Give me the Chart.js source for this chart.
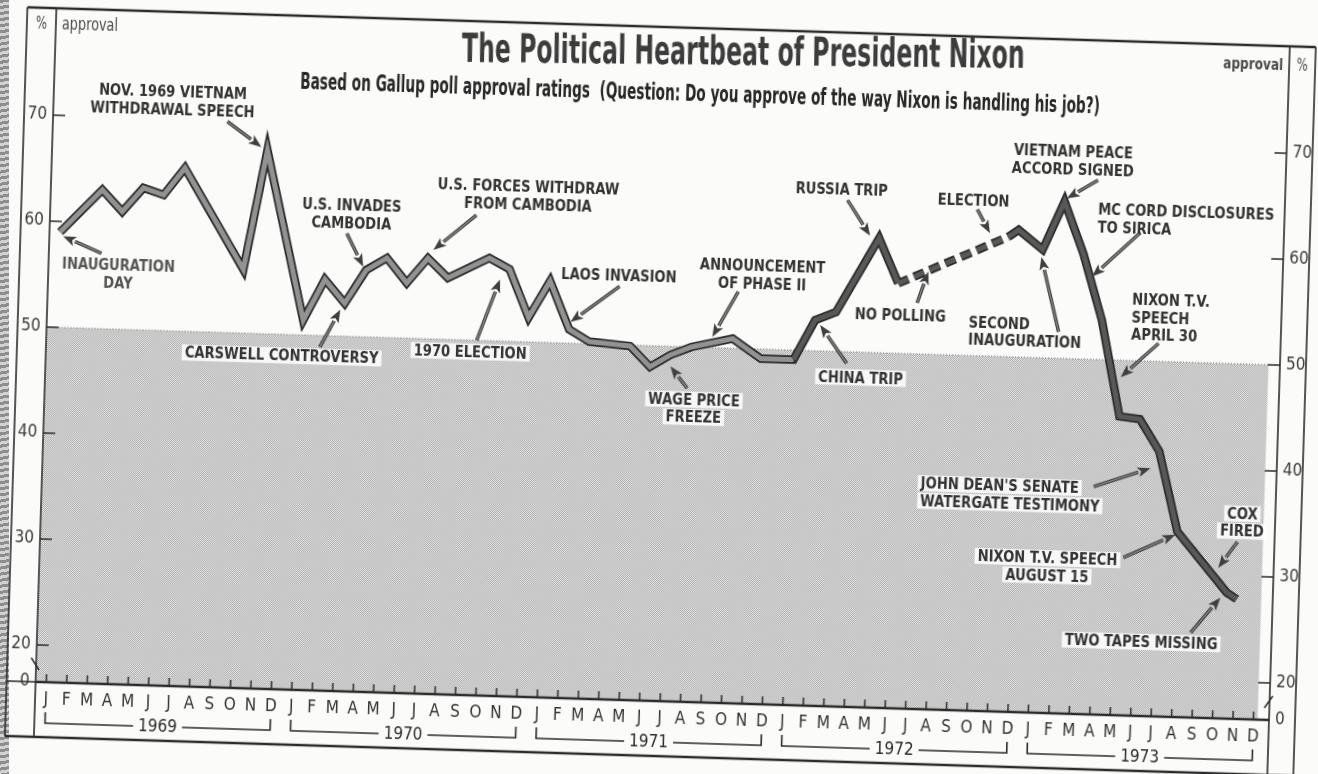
<!DOCTYPE html>
<html lang="en">
<head>
<meta charset="UTF-8">
<title>The Political Heartbeat of President Nixon</title>
<script src="https://cdn.jsdelivr.net/npm/chart.js"></script>
<style>
  html, body { margin: 0; padding: 0; background: #fbfbf9; overflow: hidden; }
  #wrap { position: relative; width: 1318px; height: 774px; overflow: hidden; }
  #edge { position: absolute; left: 0; top: 0; width: 9px; height: 774px;
          background: repeating-linear-gradient(170deg, #8d8d8d 0 3px, #d2d2d2 3px 6px); }
  #nixonChart { position: absolute; left: 0; top: 0; transform: rotate(1.77deg); transform-origin: 659px 387px; }
</style>
</head>
<body>
<div id="wrap">
  <div id="edge"></div>
  <canvas id="nixonChart" width="1318" height="774"></canvas>
</div>
<script>
// Gallup approval; x = months counted from Jan 1969
const pollMonth = [0, 2, 3, 4, 5, 6, 9, 10, 12, 13, 14, 15, 16, 17, 18, 19, 21, 22, 23, 24,
                   25, 26, 28, 29, 30, 31, 33, 34.4, 36, 37, 38, 40, 41, 46.3, 46.8, 48, 49,
                   50, 51, 52, 53, 54, 55, 57.5, 58];
const approval = [59.0, 63.1, 61.1, 63.4, 62.8, 65.4, 56.0, 67.3, 51.4, 55.3, 53.1, 56.3, 57.5, 55.2, 57.6, 55.8, 57.8, 56.8, 52.3, 55.8,
                  51.3, 50.2, 49.9, 48.0, 49.2, 50.0, 50.9, 49.1, 49.1, 52.9, 53.7, 60.8, 56.6, 61.3, 62.0, 60.2, 64.8,
                  59.9, 53.7, 44.7, 44.5, 41.5, 34.0, 28.4, 27.8];
const noPollingFrom = 41;          // no Gallup polling summer/fall 1972 -> dashed
const monthLetters = ['J', 'F', 'M', 'A', 'M', 'J', 'J', 'A', 'S', 'O', 'N', 'D'];
const years = ['1969', '1970', '1971', '1972', '1973'];
const yTicks = [20, 30, 40, 50, 60, 70];
const axisFloor = 16.5;            // broken axis: this level is labelled 0

// events printed on the chart: text anchor and arrow in (month, %) units
const notes = [
  { text: ['NOV. 1969 VIETNAM', 'WITHDRAWAL SPEECH'], at: [5.3, 71.7], arrow: [[8.0, 69.9], [9.7, 67.6]] },
  { text: ['INAUGURATION', 'DAY'], at: [2.9, 55.2], arrow: [[2.05, 57.1], [0.15, 58.6]], color: '#555' },
  { text: ['U.S. INVADES', 'CAMBODIA'], at: [14.2, 61.5], arrow: [[14.0, 59.7], [14.85, 56.6]] },
  { text: ['U.S. FORCES WITHDRAW', 'FROM CAMBODIA'], at: [22.8, 63.8], arrow: [[20.3, 61.8], [18.25, 58.4]] },
  { text: ['CARSWELL CONTROVERSY'], at: [11.0, 48.0], arrow: [[12.85, 48.9], [13.8, 52.5]] },
  { text: ['1970 ELECTION'], at: [20.2, 48.9], arrow: [[20.5, 50.0], [21.55, 55.8]] },
  { text: ['LAOS INVASION'], at: [27.35, 56.5], arrow: [[27.4, 55.5], [25.05, 52.0]] },
  { text: ['ANNOUNCEMENT', 'OF PHASE II'], at: [34.35, 57.0], arrow: [[33.2, 55.35], [32.0, 51.0]] },
  { text: ['WAGE PRICE', 'FREEZE'], at: [31.2, 44.2], arrow: [[30.85, 46.1], [30.0, 48.1]] },
  { text: ['RUSSIA TRIP'], at: [38.1, 65.25], arrow: [[38.4, 64.3], [39.55, 61.0]] },
  { text: ['CHINA TRIP'], at: [39.3, 47.6], arrow: [[38.6, 48.9], [37.25, 52.45]] },
  { text: ['NO POLLING'], at: [41.15, 53.6], arrow: [[41.95, 54.8], [42.45, 57.8]] },
  { text: ['ELECTION'], at: [44.55, 64.6], arrow: [[44.75, 63.8], [45.4, 61.6]] },
  { text: ['VIETNAM PEACE', 'ACCORD SIGNED'], at: [49.35, 68.7], arrow: [[50.6, 66.9], [49.1, 65.1]] },
  { text: ['MC CORD DISCLOSURES', 'TO SIRICA'], at: [50.65, 63.3], align: 'left', arrow: [[52.75, 62.1], [50.45, 57.8]] },
  { text: ['SECOND', 'INAUGURATION'], at: [44.5, 52.3], align: 'left', arrow: [[48.9, 52.5], [47.95, 59.5]] },
  { text: ['NIXON T.V.', 'SPEECH', 'APRIL 30'], at: [52.45, 54.1], align: 'left', arrow: [[53.8, 51.7], [52.0, 48.4]] },
  { text: ["JOHN DEAN'S SENATE", 'WATERGATE TESTIMONY'], at: [42.4, 37.0], align: 'left', arrow: [[50.85, 38.0], [53.6, 39.9]] },
  { text: ['NIXON T.V. SPEECH', 'AUGUST 15'], at: [48.7, 30.3], arrow: [[52.4, 31.4], [54.9, 33.7]] },
  { text: ['COX', 'FIRED'], at: [58.15, 35.05], arrow: [[57.95, 33.2], [57.05, 30.7]] },
  { text: ['TWO TAPES MISSING'], at: [53.4, 23.5], arrow: [[55.8, 24.5], [57.2, 27.9]] }
];

const approvalLine = pollMonth.map((m, i) => ({ x: m, y: approval[i] }));
const narrow = "'Liberation Sans Narrow', 'DejaVu Sans Condensed', 'Roboto Condensed', 'DejaVu Sans', sans-serif";
const ink = '#2b2b2b';
const frame = { left: 16, right: 1305, top: 27, bottom: 756 };

function halftone(ctx) {
  const tile = document.createElement('canvas');
  tile.width = 2; tile.height = 2;
  const t = tile.getContext('2d');
  t.fillStyle = '#e8e8e8'; t.fillRect(0, 0, 2, 2);
  t.fillStyle = '#a9a9a9'; t.fillRect(0, 0, 1, 1); t.fillRect(1, 1, 1, 1);
  return ctx.createPattern(tile, 'repeat');
}

// squeezed text, like the condensed newspaper type
function fitText(ctx, text, cx, cy, width, font, color, tilt = 0) {
  ctx.save();
  ctx.font = font;
  const w = ctx.measureText(text).width;
  ctx.translate(cx, cy);
  ctx.rotate(tilt);
  ctx.scale(width / w, 1);
  ctx.fillStyle = color;
  ctx.textAlign = 'center';
  ctx.textBaseline = 'middle';
  ctx.fillText(text, 0, 0);
  ctx.restore();
}

function drawArrow(ctx, x0, y0, x1, y1) {
  const a = Math.atan2(y1 - y0, x1 - x0);
  const head = 13, half = 5;
  const bx = x1 - head * Math.cos(a), by = y1 - head * Math.sin(a);
  ctx.save();
  ctx.lineCap = 'butt';
  ctx.strokeStyle = '#3a3a3a'; ctx.lineWidth = 3.5;
  ctx.beginPath(); ctx.moveTo(x0, y0); ctx.lineTo(bx, by); ctx.stroke();
  ctx.strokeStyle = '#8a8a8a'; ctx.lineWidth = 1.3;
  ctx.beginPath(); ctx.moveTo(x0, y0); ctx.lineTo(bx, by); ctx.stroke();
  ctx.fillStyle = '#3f3f3f';
  ctx.beginPath();
  ctx.moveTo(x1, y1);
  ctx.lineTo(bx + half * Math.sin(a), by - half * Math.cos(a));
  ctx.lineTo(bx + 3 * Math.cos(a), by + 3 * Math.sin(a));
  ctx.lineTo(bx - half * Math.sin(a), by + half * Math.cos(a));
  ctx.closePath(); ctx.fill();
  ctx.restore();
}

const decor = {
  id: 'decor',
  beforeDatasetsDraw(chart) {
    const { ctx, chartArea: area, scales: { x, y } } = chart;
    const y50 = y.getPixelForValue(50);
    const xEnd = x.getPixelForValue(59.2);
    ctx.save();
    // shaded zone under 50 %
    ctx.fillStyle = halftone(ctx);
    ctx.fillRect(area.left + 1, y50, xEnd - area.left - 1, area.bottom - y50);
    ctx.strokeStyle = '#777'; ctx.lineWidth = 1; ctx.setLineDash([1, 2]);
    ctx.beginPath(); ctx.moveTo(area.left, y50); ctx.lineTo(xEnd, y50); ctx.stroke();
    ctx.setLineDash([]);
    // frame and axis lines
    ctx.strokeStyle = ink;
    ctx.lineWidth = 2.5;
    ctx.beginPath();
    ctx.moveTo(frame.left, frame.top); ctx.lineTo(frame.right, frame.top);
    ctx.moveTo(frame.left, frame.bottom); ctx.lineTo(frame.right, frame.bottom);
    ctx.moveTo(area.left, area.bottom); ctx.lineTo(area.right, area.bottom);
    ctx.stroke();
    ctx.lineWidth = 1.6;
    ctx.beginPath();
    ctx.moveTo(frame.left, frame.top); ctx.lineTo(frame.left, frame.bottom);
    ctx.moveTo(frame.right, frame.top); ctx.lineTo(frame.right, frame.bottom);
    ctx.moveTo(area.left, frame.top); ctx.lineTo(area.left, frame.bottom);
    ctx.moveTo(area.right, frame.top); ctx.lineTo(area.right, frame.bottom);
    ctx.stroke();
    // tick marks pointing into the plot
    ctx.lineWidth = 1.5;
    ctx.beginPath();
    for (let m = 0; m < 60; m++) {
      const px = x.getPixelForValue(m);
      ctx.moveTo(px, area.bottom); ctx.lineTo(px, area.bottom - 8);
    }
    yTicks.forEach(v => {
      const py = y.getPixelForValue(v);
      ctx.moveTo(area.left, py); ctx.lineTo(area.left + 12, py);
      ctx.moveTo(area.right - 12, py); ctx.lineTo(area.right, py);
    });
    ctx.moveTo(frame.left, area.bottom); ctx.lineTo(area.left, area.bottom);
    ctx.moveTo(area.right - 8, area.bottom); ctx.lineTo(area.right, area.bottom);
    ctx.stroke();
    // axis break marks
    const pb = y.getPixelForValue(18.2);
    ctx.beginPath();
    ctx.moveTo(area.left - 5, pb - 6); ctx.lineTo(area.left + 3, pb + 6);
    ctx.moveTo(area.right - 5, pb + 6); ctx.lineTo(area.right + 3, pb - 6);
    ctx.stroke();
    ctx.restore();
  },
  afterDatasetsDraw(chart) {
    const { ctx, chartArea: area, scales: { x, y } } = chart;
    ctx.save();
    // year brackets under the month letters
    const yb = area.bottom + 41;
    ctx.font = `17px ${narrow}`;
    ctx.fillStyle = ink; ctx.strokeStyle = ink; ctx.lineWidth = 1.6;
    ctx.textAlign = 'center'; ctx.textBaseline = 'middle';
    years.forEach((yr, k) => {
      const x0 = x.getPixelForValue(12 * k), x1 = x.getPixelForValue(12 * k + 11);
      const mid = (x0 + x1) / 2, hw = ctx.measureText(yr).width / 2 + 5;
      ctx.beginPath();
      ctx.moveTo(x0, yb - 11); ctx.lineTo(x0, yb); ctx.lineTo(mid - hw, yb);
      ctx.moveTo(mid + hw, yb); ctx.lineTo(x1, yb); ctx.lineTo(x1, yb - 11);
      ctx.stroke();
      ctx.fillText(yr, mid, yb + 1);
    });
    // arrows, then labels
    notes.forEach(n => {
      const [a, b] = n.arrow;
      drawArrow(ctx, x.getPixelForValue(a[0]), y.getPixelForValue(a[1]),
                     x.getPixelForValue(b[0]), y.getPixelForValue(b[1]));
    });
    const sx = 0.82, lh = 17.5;
    ctx.font = "bold 16px 'DejaVu Sans', sans-serif";
    ctx.textBaseline = 'middle';
    notes.forEach(n => {
      const ax = x.getPixelForValue(n.at[0]), ay = y.getPixelForValue(n.at[1]);
      const align = n.align || 'center';
      const top = ay - (n.text.length - 1) * lh / 2;
      n.text.forEach((line, i) => {
        const ly = top + i * lh;
        const w = ctx.measureText(line).width * sx;
        if (n.at[1] < 50) {
          ctx.fillStyle = 'rgba(255,255,255,0.85)';
          const left = align === 'left' ? ax : ax - w / 2;
          ctx.fillRect(left - 3, ly - 8, w + 6, 16);
        }
        ctx.save();
        ctx.translate(ax, ly);
        ctx.scale(sx, 1);
        ctx.textAlign = align;
        ctx.fillStyle = n.color || '#333';
        ctx.fillText(line, 0, 1);
        ctx.restore();
      });
    });
    // headings (pasted slightly less skewed than the grid)
    fitText(ctx, 'The Political Heartbeat of President Nixon', 733, 52, 563,
            "bold 40px 'DejaVu Sans', sans-serif", '#3c3c3c', -0.02);
    fitText(ctx, 'Based on Gallup poll approval ratings  (Question: Do you approve of the way Nixon is handling his job?)',
            691, 94, 800, "bold 23px 'DejaVu Sans', sans-serif", '#262626');
    const hdr = "17px 'DejaVu Sans', sans-serif";
    fitText(ctx, '%', (frame.left + area.left) / 2, 44, 11, hdr, '#4a4a4a');
    fitText(ctx, 'approval', area.left + 34, 44, 56, hdr, '#4a4a4a');
    fitText(ctx, '%', (frame.right + area.right) / 2, 47, 11, hdr, '#4a4a4a');
    fitText(ctx, 'approval', area.right - 36, 47, 60, "bold 16px 'DejaVu Sans', sans-serif", '#4a4a4a');
    ctx.restore();
  }
};

const yAxis = (position, width) => ({
  position,
  min: axisFloor,
  max: 80,
  afterBuildTicks: s => { s.ticks = [axisFloor, ...yTicks].map(v => ({ value: v })); },
  afterFit: s => { s.width = width; },
  grid: { display: false, drawTicks: false },
  border: { display: false },
  ticks: {
    padding: 6,
    color: '#3a3a3a',
    font: { family: narrow, size: 17 },
    callback: v => (v < 20 ? '0' : v)
  }
});

new Chart(document.getElementById('nixonChart'), {
  type: 'line',
  data: {
    datasets: [
      {
        data: approvalLine,
        order: 0,
        borderWidth: 5,
        borderColor: '#929292',
        pointRadius: 0,
        borderJoinStyle: 'miter',
        segment: {
          borderColor: c => (c.p0.parsed.x >= 36 ? '#585858' : undefined),
          borderDash: c => (c.p0.parsed.x === noPollingFrom ? [11, 6] : undefined)
        }
      },
      {
        data: approvalLine,
        order: 1,
        borderWidth: 8.5,
        borderColor: '#2a2a2a',
        pointRadius: 0,
        borderJoinStyle: 'miter',
        segment: {
          borderDash: c => (c.p0.parsed.x === noPollingFrom ? [11, 6] : undefined)
        }
      }
    ]
  },
  options: {
    responsive: false,
    animation: false,
    devicePixelRatio: 1,
    layout: { padding: { left: 16, right: 13, top: 28, bottom: 18 } },
    plugins: { legend: { display: false }, tooltip: { enabled: false } },
    scales: {
      x: {
        type: 'linear',
        min: -0.52,
        max: 59.76,
        afterBuildTicks: s => { s.ticks = Array.from({ length: 60 }, (_, i) => ({ value: i })); },
        afterFit: s => { s.height = 55; },
        grid: { display: false, drawTicks: false },
        border: { display: false },
        ticks: {
          padding: 7,
          autoSkip: false,
          maxRotation: 0,
          color: '#333',
          font: { family: narrow, size: 17 },
          callback: v => monthLetters[v % 12]
        }
      },
      y: yAxis('left', 29),
      y2: yAxis('right', 26)
    }
  },
  plugins: [decor]
});
</script>
</body>
</html>
